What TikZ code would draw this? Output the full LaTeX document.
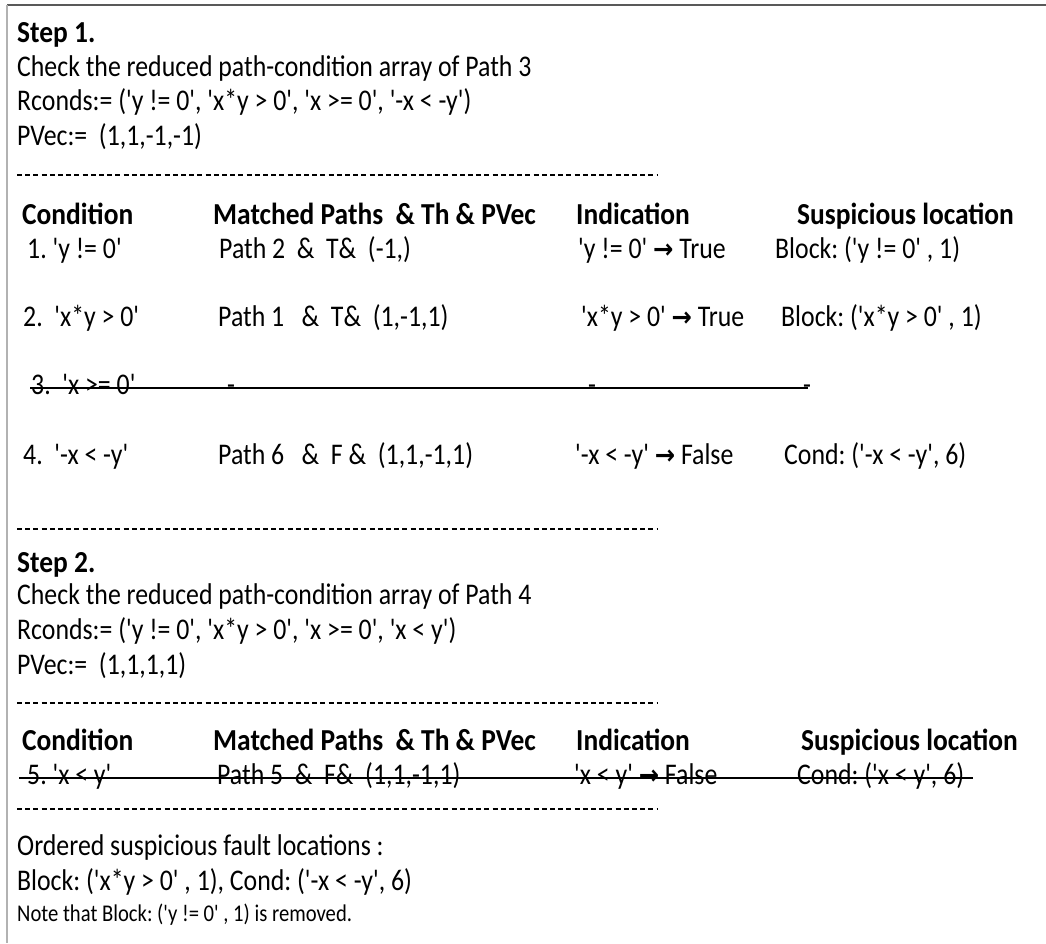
\documentclass[tikz,border=0pt]{standalone}
\usepackage{fontspec}
\newfontfamily\cf{Carlito}[Ligatures=TeXOff, FakeStretch=0.86]
\newfontfamily\cb{Carlito Bold}[Ligatures=TeXOff, FakeStretch=0.9]
\newfontfamily\af{DejaVu Sans}[FakeStretch=0.9]
\newcommand\arr{{\af\bfseries\fontsize{27}{30}\selectfont\char"2192}}
\frenchspacing
\begin{document}
\frenchspacing
\begin{tikzpicture}[x=1pt,y=-1pt,
  txt/.style={anchor=base west, inner sep=0pt, font=\cf\fontsize{30}{34}\selectfont\frenchspacing},
  bt/.style={txt, font=\cb\fontsize{30.5}{34}\selectfont\frenchspacing},
  sm/.style={txt, font=\cf\fontsize{24}{27}\selectfont\frenchspacing},
  sep/.style={line width=1.5pt, dash pattern=on 5pt off 3.2pt},
  strike/.style={line width=1.5pt}]
\useasboundingbox (0,0) rectangle (1046,943);
% frame: top and left edges only
\draw[line width=2pt, black!65] (7,5) -- (1046,5);
\draw[line width=2pt, black!30] (7,5) -- (7,943);

% ---- Step 1 ----
\node[bt]  (s1)  at (17,42)    {Step 1.};
\node[txt] (c1)  at (17,76)    {Check the reduced path-condition array of Path 3};
\node[txt] (r1)  at (17,110.5) {Rconds:= ('y != 0', 'x*y > 0', 'x >= 0', '-x < -y')};
\node[txt] (p1)  at (17,145)   {PVec:= \ (1,1,-1,-1)};
\coordinate (d1a) at (17,175); \coordinate (d1b) at (658,175);
\draw[sep] (d1a) -- (d1b);

\node[bt] (h1c) at (22,224)  {Condition};
\node[bt] (h1m) at (213,224) {Matched Paths \ \& Th \& PVec};
\node[bt] (h1i) at (576,224) {Indication};
\node[bt] (h1s) at (797,224) {Suspicious location};

\node[txt] (a1) at (27,258)  {1. 'y != 0'};
\node[txt] (b1) at (219,258) {Path 2 \ \& \ T\& \ (-1,)};
\node[txt] (e1) at (578,258) {'y != 0' \arr{} True};
\node[txt] (f1) at (775,258) {Block: ('y != 0' , 1)};

\node[txt] (a2) at (23,326)  {2. \ 'x*y > 0'};
\node[txt] (b2) at (218,326) {Path 1 \ \ \& \ T\& \ (1,-1,1)};
\node[txt] (e2) at (581,326) {'x*y > 0' \arr{} True};
\node[txt] (f2) at (781,326) {Block: ('x*y > 0' , 1)};

\node[txt] (a3) at (31,394)  {3. \ 'x >= 0'};
\node[txt] (b3) at (227,394) {-};
\node[txt] (e3) at (588,394) {-};
\node[txt] (f3) at (803,394) {-};
\coordinate (k3a) at (30,388); \coordinate (k3b) at (808,388);
\draw[strike] (k3a) -- (k3b);

\node[txt] (a4) at (23,464)  {4. \ '-x < -y'};
\node[txt] (b4) at (218,464) {Path 6 \ \ \& \ F \& \ (1,1,-1,1)};
\node[txt] (e4) at (575,464) {'-x < -y' \arr{} False};
\node[txt] (f4) at (784,464) {Cond: ('-x < -y', 6)};

\coordinate (d2a) at (17,529); \coordinate (d2b) at (658,529);
\draw[sep] (d2a) -- (d2b);

% ---- Step 2 ----
\node[bt]  (s2) at (17,572)  {Step 2.};
\node[txt] (c2) at (17,604)  {Check the reduced path-condition array of Path 4};
\node[txt] (r2) at (17,639)  {Rconds:= ('y != 0', 'x*y > 0', 'x >= 0', 'x < y')};
\node[txt] (p2) at (17,674)  {PVec:= \ (1,1,1,1)};
\coordinate (d3a) at (17,703); \coordinate (d3b) at (658,703);
\draw[sep] (d3a) -- (d3b);

\node[bt] (h2c) at (22,750)  {Condition};
\node[bt] (h2m) at (213,750) {Matched Paths \ \& Th \& PVec};
\node[bt] (h2i) at (576,750) {Indication};
\node[bt] (h2s) at (801,750) {Suspicious location};

\node[txt] (a5) at (27,784)  {5. 'x < y'};
\node[txt] (b5) at (217,784) {Path 5 \ \& \ F\& \ (1,1,-1,1)};
\node[txt] (e5) at (574,784) {'x < y' \arr{} False};
\node[txt] (f5) at (797,784) {Cond: ('x < y', 6)};
\coordinate (k5a) at (19,778); \coordinate (k5b) at (973,778);
\draw[strike] (k5a) -- (k5b);

\coordinate (d4a) at (17,809); \coordinate (d4b) at (658,809);
\draw[sep] (d4a) -- (d4b);

\node[txt] (o1) at (17,855) {Ordered suspicious fault locations :};
\node[txt] (o2) at (17,890) {Block: ('x*y > 0' , 1), Cond: ('-x < -y', 6)};
\node[sm]  (o3) at (17,921) {Note that Block: ('y != 0' , 1) is removed.};
\end{tikzpicture}
\end{document}
